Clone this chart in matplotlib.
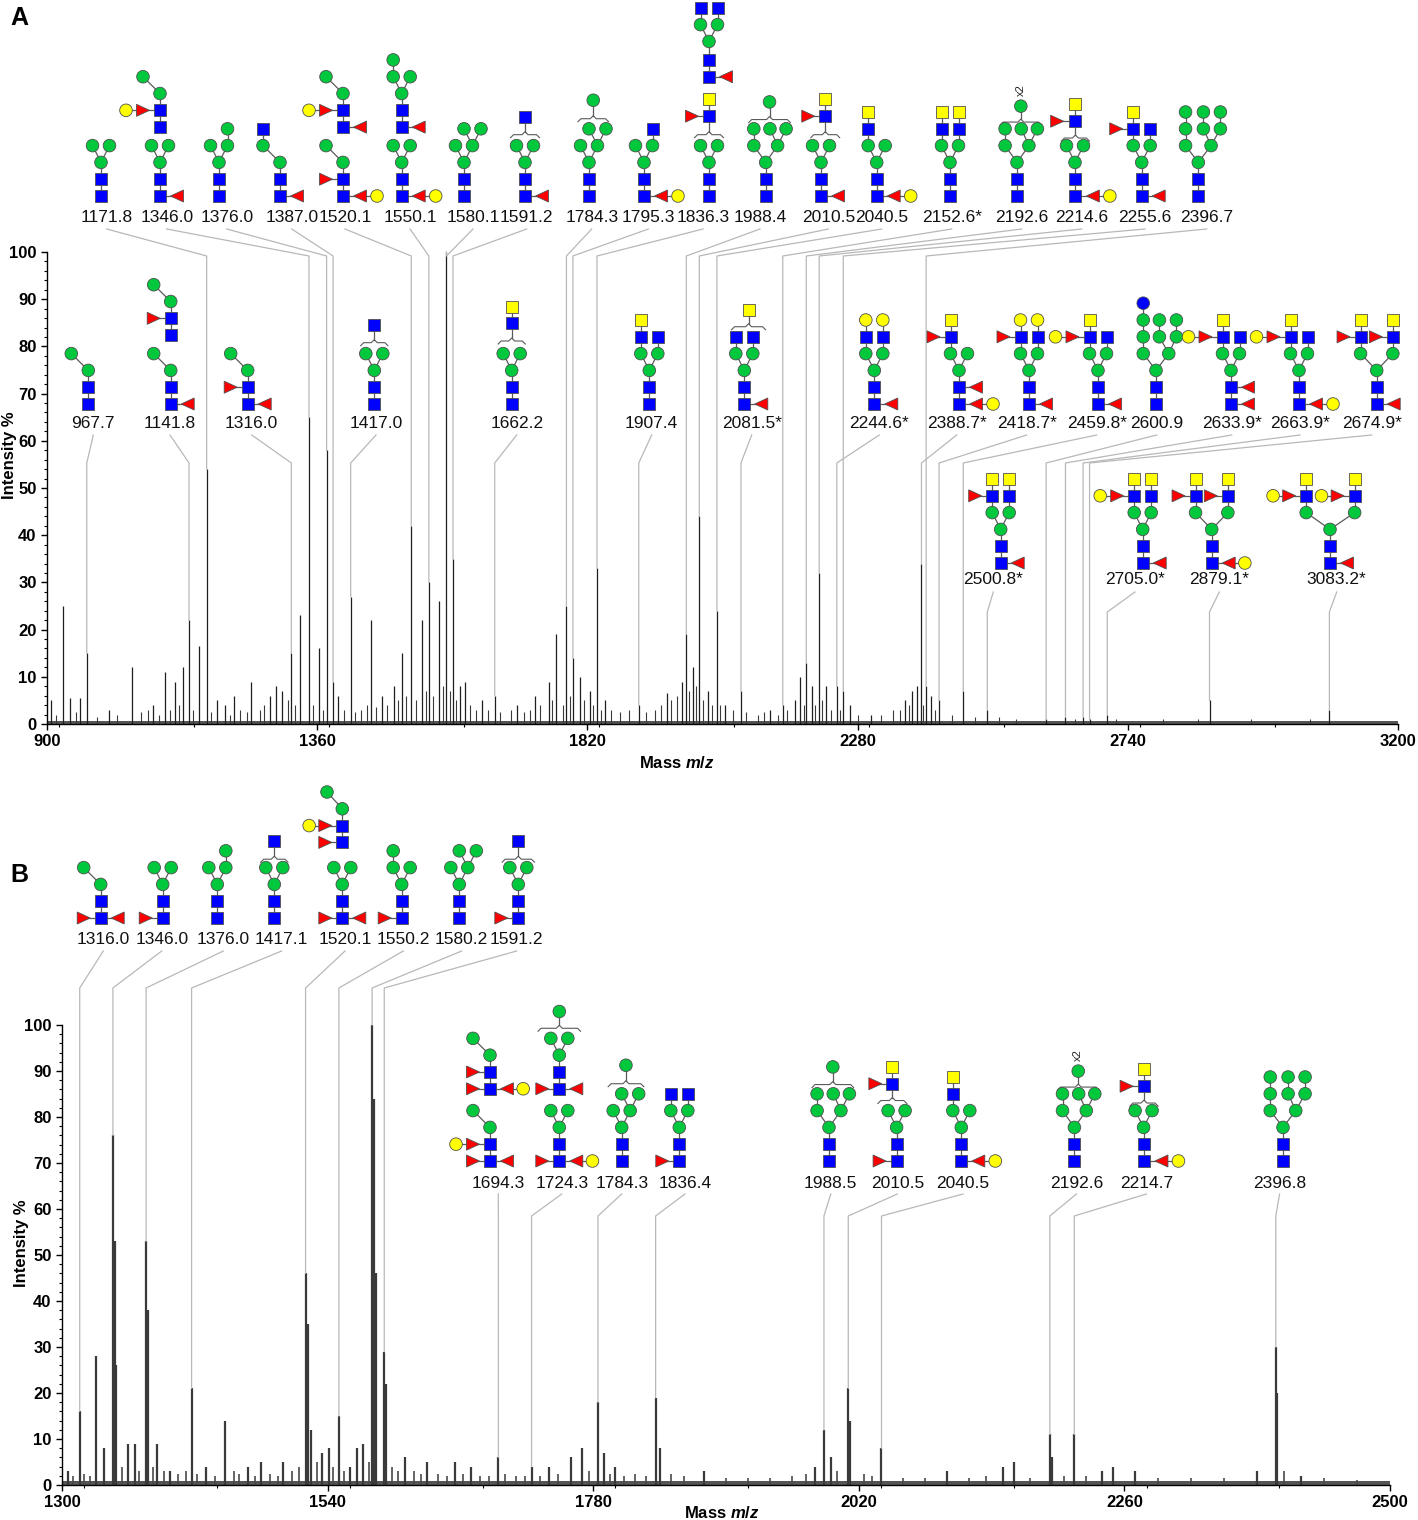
import matplotlib
matplotlib.use("Agg")
import matplotlib.pyplot as plt
from matplotlib.patches import Rectangle, Circle, Polygon
from matplotlib.ticker import MultipleLocator

W, H = 1418, 1520

plt.rcParams["font.family"] = ["Liberation Sans", "DejaVu Sans"]
plt.rcParams["mathtext.fontset"] = "custom"
plt.rcParams["mathtext.it"] = "Liberation Sans:italic:bold"
plt.rcParams["mathtext.rm"] = "Liberation Sans:bold"

# -----------------------------
# Spectrum A (m/z, intensity %)
# -----------------------------
a_mz = [907, 928, 940, 956, 967.7, 1005, 1044, 1080, 1101, 1118, 1131, 1141.8, 1159, 1171.8,
        1190, 1203, 1218, 1247, 1280, 1290, 1300, 1316.0, 1330, 1346.0, 1363, 1376.0, 1387.0,
        1395, 1417.0, 1452, 1470, 1490, 1505, 1520.1, 1538, 1550.1, 1567, 1580.1, 1591.2, 1603,
        1612, 1640, 1662.2, 1700, 1730, 1755, 1766, 1784.3, 1795.3, 1807, 1824, 1836.3, 1850,
        1907.4, 1955, 1981, 1988.4, 1999, 2010.5, 2025, 2040.5, 2054, 2081.5, 2131, 2152.6,
        2173, 2182, 2192.6, 2202, 2214.6, 2226, 2244.6, 2255.6, 2267, 2302, 2361, 2373, 2381,
        2388.7, 2396.7, 2405, 2418.7, 2459.8, 2500.8, 2600.9, 2633.9, 2663.9, 2674.9, 2705.0,
        2879.1, 3083.2]
a_int = [5, 25, 5.5, 5.5, 15, 3, 12, 4, 11, 9, 12, 22, 16.5, 54, 5, 4, 6, 9, 6, 8, 7, 15, 23,
         65, 16, 58, 9, 6, 27, 22, 6, 8, 15, 42, 22, 30, 26, 100, 35, 8, 9, 5, 6, 4, 6, 9, 19,
         25, 14, 10, 7, 33, 5, 4, 6.5, 9, 19, 12, 44, 7, 24, 4, 7, 3, 4, 5, 10, 13, 8, 32, 8, 8,
         7, 4, 2, 5, 7, 8, 34, 8, 6, 5, 7, 3, 1, 1.5, 1.5, 1, 2, 5, 3]

# low-level peaks (baseline "grass") in A
a_minor_mz = [915, 950, 985, 1020, 1060, 1072, 1090, 1110, 1125, 1148, 1180, 1212, 1228, 1240,
              1262, 1270, 1310, 1322, 1352, 1370, 1405, 1425, 1435, 1445, 1460, 1478, 1498,
              1512, 1528, 1545, 1557, 1575, 1586, 1597, 1620, 1630, 1650, 1672, 1690, 1712,
              1722, 1740, 1760, 1778, 1790, 1815, 1830, 1843, 1860, 1875, 1890, 1920, 1935,
              1945, 1962, 1972, 1993, 2005, 2017, 2032, 2046, 2068, 2090, 2110, 2120, 2145,
              2160, 2188, 2208, 2220, 2235, 2250, 2280, 2320, 2340, 2352, 2368, 2392, 2412,
              2440, 2480, 2520, 2550, 2650, 2720, 2800, 2860, 2950, 3050]
a_minor_int = [2, 2.5, 1.5, 2, 2.5, 3, 2, 3, 4, 3, 2.5, 2, 3, 2.5, 3, 4, 5, 4, 4, 3, 3, 2.5, 3,
               4, 3.5, 4, 5, 6, 5, 7, 6, 8, 7, 5, 4, 3, 3, 2.5, 3, 2.5, 3, 4, 5, 4, 6, 5, 4, 3,
               3, 2.5, 3, 2.5, 3, 4, 5, 6, 7, 8, 5, 4, 4, 3, 2.5, 2, 2.5, 2, 3, 4, 4, 5, 3, 3,
               2, 2, 3, 3, 4, 4, 3, 2, 1.5, 1.5, 1, 1, 1, 1, 1, 1, 1]

# -----------------------------
# Spectrum B (m/z, intensity %)
# -----------------------------
b_mz = [1305, 1316.0, 1331, 1338, 1346.0, 1347.5, 1349, 1360, 1366, 1376.0, 1378, 1386, 1398,
        1417.1, 1430, 1447, 1468, 1480, 1500, 1520.1, 1522, 1525, 1535, 1541, 1550.2, 1560,
        1567, 1572, 1580.2, 1582, 1583.5, 1591.2, 1593, 1610, 1630, 1655, 1670, 1694.3, 1724.3,
        1740, 1760, 1770, 1784.3, 1790, 1800, 1836.4, 1840, 1880, 1980, 1988.5, 1995, 2010.5,
        2012, 2040.5, 2100, 2150, 2160, 2192.6, 2195, 2214.7, 2240, 2250, 2270, 2380, 2396.8,
        2398, 2420]
b_int = [3, 16, 28, 8, 76, 53, 26, 9, 9, 53, 38, 9, 3, 21, 4, 14, 4, 5, 5, 46, 35, 12, 7, 8, 15,
         4, 8, 9, 100, 84, 46, 29, 22, 6, 5, 5, 4, 6, 4, 4, 6, 8, 18, 7, 4, 19, 8, 3, 4, 12, 6,
         21, 14, 8, 3, 4, 5, 11, 6, 11, 3, 4, 3, 3, 30, 20, 2]

b_minor_mz = [1310, 1320, 1325, 1354, 1370, 1382, 1392, 1405, 1412, 1422, 1438, 1455, 1460,
              1474, 1488, 1495, 1508, 1514, 1530, 1545, 1555, 1577, 1598, 1604, 1618, 1624,
              1640, 1648, 1662, 1678, 1686, 1700, 1710, 1718, 1732, 1748, 1776, 1795, 1808,
              1818, 1828, 1850, 1862, 1900, 1920, 1940, 1960, 1972, 2000, 2025, 2032, 2060,
              2080, 2120, 2135, 2175, 2205, 2225, 2290, 2320, 2350, 2404, 2440, 2470]
b_minor_int = [2, 2.5, 2, 4, 3, 4, 3, 2.5, 3, 2.5, 2, 3, 2.5, 2, 2.5, 2, 3, 4, 5, 4, 3, 5, 4, 3,
               3, 2.5, 2.5, 2, 2.5, 2, 2, 2.5, 2, 2, 2, 2.5, 3, 2.5, 2, 2.5, 2, 2.5, 2, 1.5, 1.5,
               1.5, 2, 2.5, 3, 2.5, 2, 1.5, 1.5, 1.5, 2, 1.5, 2, 2, 1.5, 1.5, 1.5, 3, 1.5, 1]

a_ticks = [900, 1360, 1820, 2280, 2740, 3200]
b_ticks = [1300, 1540, 1780, 2020, 2260, 2500]

# -----------------------------
# Glycan cartoons (chain notation, grid units)
# N GlcNAc, M Man, G Gal, Y GalNAc, F Fuc, L Glc, {x0,x1,y,top} bracket, T "x2"
# -----------------------------
M3 = "N0,0 N0,1 M0,2 M-1,3; M0,2 M1,3"
LIN = "N0,0 N0,1 M0,2 M-2,3"
TRI = "N0,0 N0,1 M0,2 M-1.4,3 M-1.4,4; M0,2 M1.4,3 M0.5,4; M1.4,3 M2.4,4"
HM9 = "N0,0 N0,1 M0,2 M-1.5,3 M-1.5,4 M-1.5,5; M0,2 M1.5,3 M0.6,4 M0.6,5; M1.5,3 M2.6,4 M2.6,5"

glycans = {
    "A1171.8": M3,
    "A1346.0": M3 + "; N0,0 F2,0; N0,4.1 N0,5.1 M0,6.1 M-2,7.1; N0,5.1 F-2,5.1 G-4,5.1",
    "A1376.0": M3 + "; M1,3 M1,4",
    "A1387.0": "N0,0 N0,1 M0,2 M-2,3 N-2,4; N0,0 F2,0",
    "A1520.1": LIN + "; N0,1 F-2,1; N0,0 F2,0 G4,0; N0,4.1 N0,5.1 M0,6.1 M-2,7.1; "
               "N0,5.1 F-2,5.1 G-4,5.1; N0,4.1 F2,4.1",
    "A1550.1": M3 + "; N0,0 F2,0 G4,0; N0,4.1 N0,5.1 M0,6.1 M-1,7.1 M-1,8.1; M0,6.1 M1,7.1; N0,4.1 F2,4.1",
    "A1580.1": M3 + "; M1,3 M0,4; M1,3 M2,4",
    "A1591.2": M3 + "; N0,0 F2,0; {-1.7,1.7,3.65,4.7}; N0,4.7",
    "A1784.3": M3 + "; M1,3 M0,4; M1,3 M2,4; {-1.3,2.3,4.6,5.7}; M0.5,5.7",
    "A1795.3": M3 + "; M1,3 N1,4; N0,0 F2,0 G4,0",
    "A1836.3": M3 + "; {-1.7,1.7,3.65,4.75}; N0,4.75 Y0,5.75; N0,4.75 F-2,4.75; "
               "N0,7.1 N0,8.1 M0,9.2 M-1,10.2 N-1,11.2; M0,9.2 M1,10.2 N1,11.2; N0,7.1 F2,7.1",
    "A1988.4": TRI + "; {-2,2.9,4.55,5.6}; M0.45,5.6",
    "A2010.5": M3 + "; N0,0 F2,0; {-1.2,2.2,3.65,4.75}; N0.5,4.75 Y0.5,5.75; N0.5,4.75 F-1.5,4.75",
    "A2040.5": M3 + "; M-1,3 N-1,4 Y-1,5; N0,0 F2,0 G4,0",
    "A2152.6*": M3 + "; M-1,3 N-1,4 Y-1,5; M1,3 N1,4 Y1,5",
    "A2192.6": TRI + "; {-2,2.9,4.4,5.35}; M0.45,5.35; T0.45,6.3",
    "A2214.6": M3 + "; N0,0 F2.1,0 G4.1,0; {-1.6,1.7,3.45,4.45}; N0,4.45 Y0,5.45; N0,4.45 F-2.1,4.45",
    "A2255.6": M3 + "; M-1,3 N-1,4 Y-1,5; M1,3 N1,4; N-1,4 F-3,4; N0,0 F2,0",
    "A2396.7": HM9,
    "A967.7": LIN,
    "A1141.8": LIN + "; N0,0 F2,0; N0,4.1 N0,5.1 M0,6.1 M-2,7.1; N0,5.1 F-2,5.1",
    "A1316.0": LIN + "; N0,0 F2,0; N0,1 F-2,1",
    "A1417.0": M3 + "; {-1.6,1.6,3.65,4.7}; N0,4.7",
    "A1662.2": M3 + "; {-1.6,1.6,3.75,4.8}; N0,4.8 Y0,5.8",
    "A1907.4": M3 + "; M-1,3 N-1,4 Y-1,5; M1,3 N1,4",
    "A2081.5*": M3 + "; M-1,3 N-1,4; M1,3 N1,4; N0,0 F2,0; {-1.5,2.5,4.6,5.6}; Y0.5,5.6",
    "A2244.6*": M3 + "; M-1,3 N-1,4 G-1,5; M1,3 N1,4 G1,5; N0,0 F2,0",
    "A2388.7*": M3 + "; M-1,3 N-1,4 Y-1,5; N-1,4 F-3,4; N0,0 F2,0 G4,0; N0,1 F2,1",
    "A2418.7*": M3 + "; M-1,3 N-1,4 G-1,5; M1,3 N1,4 G1,5; N-1,4 F-3,4; N0,0 F2,0",
    "A2459.8*": M3 + "; M-1,3 N-1,4 Y-1,5; M1,3 N1,4; N-1,4 F-3,4 G-5,4; N0,0 F2,0",
    "A2600.9": "N0,0 N0,1 M0,2 M-1.5,3 M-1.5,4 M-1.5,5 L-1.5,6; M0,2 M1.5,3 M0.4,4 M0.4,5; M1.5,3 M2.4,4 M2.4,5",
    "A2633.9*": M3 + "; M-1,3 N-1,4 Y-1,5; M1,3 N1,4; N-1,4 F-3,4 G-5,4; N0,0 F2,0; N0,1 F2,1",
    "A2663.9*": M3 + "; M-1,3 N-1,4 Y-1,5; M1,3 N1,4; N-1,4 F-3,4 G-5,4; N0,0 F2,0 G4,0",
    "A2674.9*": "N0,0 N0,1 M0,2 M-1.9,3 N-1.9,4 Y-1.9,5; M0,2 M1.9,3 N1.9,4 Y1.9,5; "
                "N-1.9,4 F-3.9,4; N1.9,4 F-0.1,4; N0,0 F2,0",
    "A2500.8*": M3 + "; M-1,3 N-1,4 Y-1,5; M1,3 N1,4 Y1,5; N-1,4 F-3,4; N0,0 F2,0",
    "A2705.0*": M3 + "; M-1,3 N-1,4 Y-1,5; M1,3 N1,4 Y1,5; N-1,4 F-3,4 G-5,4; N0,0 F2,0",
    "A2879.1*": "N0,0 N0,1 M0,2 M-1.9,3 N-1.9,4 Y-1.9,5; M0,2 M1.9,3 N1.9,4 Y1.9,5; "
                "N-1.9,4 F-3.9,4; N1.9,4 F-0.1,4; N0,0 F2,0 G3.9,0",
    "A3083.2*": "N0,0 N0,1 M0,2 M-2.8,3 N-2.8,4 Y-2.8,5; M0,2 M2.9,3 N2.9,4 Y2.9,5; "
                "N-2.8,4 F-4.8,4 G-6.7,4; N2.9,4 F0.9,4 G-1,4; N0,0 F2,0",
    "B1316.0": LIN + "; N0,0 F2,0; N0,0 F-2,0",
    "B1346.0": M3 + "; N0,0 F-2,0",
    "B1376.0": M3 + "; M1,3 M1,4",
    "B1417.1": M3 + "; {-1.6,1.6,3.5,4.6}; N0,4.6",
    "B1520.1": M3 + "; N0,0 F-2,0; N0,0 F2,0; N0,4.5 N0,5.5 M0,6.5 M-1.8,7.5; N0,4.5 F-2,4.5; "
               "N0,5.5 F-2,5.5 G-3.9,5.5",
    "B1550.2": M3 + "; M-1,3 M-1,4; N0,0 F-2,0",
    "B1580.2": M3 + "; M1,3 M0,4; M1,3 M2,4",
    "B1591.2": M3 + "; N0,0 F-2,0; {-1.9,1.9,3.5,4.6}; N0,4.6",
    "B1694.3": LIN + "; N0,0 F-2,0; N0,0 F2,0; N0,1 F-2,1 G-4,1; N0,4.3 N0,5.3 M0,6.3 M-2,7.3; "
               "N0,4.3 F-2,4.3; N0,4.3 F2,4.3 G3.9,4.3; N0,5.3 F-2,5.3",
    "B1724.3": M3 + "; N0,0 F-2,0; N0,0 F2,0 G3.9,0; N0,4.3 N0,5.3 M0,6.3 M-1,7.3; M0,6.3 M1,7.3; "
               "N0,4.3 F-2,4.3; N0,4.3 F2,4.3; {-2.5,2.5,7.9,8.9}; M0,8.9",
    "B1784.3": M3 + "; M1,3 M0,4; M1,3 M2,4; {-1.6,2.6,4.6,5.7}; M0.5,5.7",
    "B1836.4": M3 + "; M-1,3 N-1,4; M1,3 N1,4; N0,0 F-2,0",
    "B1988.5": TRI + "; {-2,2.9,4.55,5.6}; M0.45,5.6",
    "B2010.5": M3 + "; N0,0 F-2,0; {-2.2,1.2,3.6,4.6}; N-0.5,4.6 Y-0.5,5.6; N-0.5,4.6 F-2.5,4.6",
    "B2040.5": M3 + "; M-1,3 N-1,4 Y-1,5; N0,0 F2,0 G4,0",
    "B2192.6": TRI + "; {-2,2.9,4.4,5.35}; M0.45,5.35; T0.45,6.3",
    "B2214.7": M3 + "; N0,0 F2.1,0 G4.1,0; {-1.6,1.7,3.45,4.45}; N0,4.45 Y0,5.45; N0,4.45 F-2,4.45",
    "B2396.8": HM9,
}

# -----------------------------
# Annotation layout: (panel, row, label, label x px, glycan core x px)
# -----------------------------
rows = {
    "A_top": dict(label_y=218, base_y=196, start_y=229, knee_y=256),
    "A_mid": dict(label_y=424, base_y=404, start_y=435, knee_y=463),
    "A_low": dict(label_y=580, base_y=563, start_y=592, knee_y=612),
    "B_top": dict(label_y=940, base_y=918, start_y=951, knee_y=988),
    "B_low": dict(label_y=1183, base_y=1161, start_y=1194, knee_y=1216),
}

annotations = [
    ("A", "A_top", "1171.8", 106.7, 101), ("A", "A_top", "1346.0", 166.7, 160),
    ("A", "A_top", "1376.0", 226.7, 219), ("A", "A_top", "1387.0", 291.7, 280),
    ("A", "A_top", "1520.1", 345, 343), ("A", "A_top", "1550.1", 410, 401.7),
    ("A", "A_top", "1580.1", 473, 464), ("A", "A_top", "1591.2", 526.7, 525),
    ("A", "A_top", "1784.3", 591.7, 589), ("A", "A_top", "1795.3", 648.3, 644),
    ("A", "A_top", "1836.3", 703, 709), ("A", "A_top", "1988.4", 760, 765.7),
    ("A", "A_top", "2010.5", 828.3, 821), ("A", "A_top", "2040.5", 881.7, 876.7),
    ("A", "A_top", "2152.6*", 951.7, 950), ("A", "A_top", "2192.6", 1021.7, 1017),
    ("A", "A_top", "2214.6", 1081.7, 1075), ("A", "A_top", "2255.6", 1145, 1141.7),
    ("A", "A_top", "2396.7", 1206.7, 1198.3),
    ("A", "A_mid", "967.7", 93.3, 88.3), ("A", "A_mid", "1141.8", 170, 170.7),
    ("A", "A_mid", "1316.0", 251.7, 247.7), ("A", "A_mid", "1417.0", 376, 374.3),
    ("A", "A_mid", "1662.2", 516.7, 511.7), ("A", "A_mid", "1907.4", 651.7, 649.3),
    ("A", "A_mid", "2081.5*", 751.7, 744.3), ("A", "A_mid", "2244.6*", 879.3, 874.3),
    ("A", "A_mid", "2388.7*", 956.7, 959), ("A", "A_mid", "2418.7*", 1026.7, 1029),
    ("A", "A_mid", "2459.8*", 1096.7, 1098), ("A", "A_mid", "2600.9", 1156.7, 1156),
    ("A", "A_mid", "2633.9*", 1231.7, 1231), ("A", "A_mid", "2663.9*", 1300, 1299),
    ("A", "A_mid", "2674.9*", 1371.7, 1376.7),
    ("A", "A_low", "2500.8*", 993.3, 1000.7), ("A", "A_low", "2705.0*", 1135, 1142.7),
    ("A", "A_low", "2879.1*", 1219.3, 1211.7), ("A", "A_low", "3083.2*", 1336.7, 1330),
    ("B", "B_top", "1316.0", 103.3, 100.7), ("B", "B_top", "1346.0", 161.7, 162.7),
    ("B", "B_top", "1376.0", 223.3, 217.3), ("B", "B_top", "1417.1", 281.7, 274.3),
    ("B", "B_top", "1520.1", 345, 342.3), ("B", "B_top", "1550.2", 403.3, 401.7),
    ("B", "B_top", "1580.2", 461.7, 459.3), ("B", "B_top", "1591.2", 516.7, 518.3),
    ("B", "B_low", "1694.3", 498.3, 490), ("B", "B_low", "1724.3", 561.7, 559.3),
    ("B", "B_low", "1784.3", 621.7, 621.7), ("B", "B_low", "1836.4", 685, 679.3),
    ("B", "B_low", "1988.5", 830.8, 829), ("B", "B_low", "2010.5", 897.3, 896.6),
    ("B", "B_low", "2040.5", 963, 961.3), ("B", "B_low", "2192.6", 1076.5, 1074.4),
    ("B", "B_low", "2214.7", 1146.4, 1143.6), ("B", "B_low", "2396.8", 1279.6, 1283),
]

UX, UY = 8.5, 16.8
COLORS = {"N": "#0000ff", "M": "#00c83c", "G": "#ffff00", "Y": "#ffff00",
          "F": "#ff0000", "L": "#0000ff"}


def nums(tok):
    return tuple(float(v) for v in tok.strip("{}T").split(","))


def draw_glycan(ov, cx, by, spec):
    px = lambda v: cx + v * UX
    py = lambda v: by - v * UY
    nodes, edges, extras = {}, [], []
    for chain in spec.split(";"):
        prev = None
        for tok in chain.split():
            if tok[0] == "{":
                extras.append(("brace",) + nums(tok))
                continue
            if tok[0] == "T":
                extras.append(("text",) + nums(tok))
                continue
            key = nums(tok[1:])
            if key not in nodes:
                nodes[key] = (tok[0], prev)
            if prev is not None:
                edges.append((prev, key))
            prev = key

    for a, b in edges:
        ov.plot([px(a[0]), px(b[0])], [py(a[1]), py(b[1])], color="#5a5a5a", lw=0.9, zorder=2)

    for ex in extras:
        if ex[0] == "brace":
            _, x0, x1, yb, top = ex
            X0, X1, Y = px(x0), px(x1), py(yb)
            xc = (X0 + X1) / 2
            ov.plot([X0, X0 + 3, xc - 3, xc, xc + 3, X1 - 3, X1],
                    [Y + 3, Y, Y, Y - 3, Y, Y, Y + 3], color="#5a5a5a", lw=0.8, zorder=2)
            ov.plot([xc, xc], [Y - 3, py(top)], color="#5a5a5a", lw=0.9, zorder=2)
        else:
            _, x, y = ex
            ov.text(px(x), py(y), "x2", rotation=90, fontsize=8, ha="center", va="center",
                    color="#222222", zorder=4)

    for (x, y), (kind, parent) in nodes.items():
        X, Y = px(x), py(y)
        fc = COLORS[kind]
        if kind in "NY":
            ov.add_patch(Rectangle((X - 6, Y - 6), 12, 12, fc=fc, ec="#505050", lw=0.6, zorder=3))
        elif kind == "F":
            left = parent is None or parent[0] < x
            if left:
                pts = [(X - 6.5, Y), (X + 6.5, Y - 6), (X + 6.5, Y + 6)]
            else:
                pts = [(X + 6.5, Y), (X - 6.5, Y - 6), (X - 6.5, Y + 6)]
            ov.add_patch(Polygon(pts, closed=True, fc=fc, ec="#505050", lw=0.6, zorder=3))
        else:
            ov.add_patch(Circle((X, Y), 6.3, fc=fc, ec="#505050", lw=0.6, zorder=3))


def style_axis(ax, ticks, minor):
    ax.set_ylim(0, 100)
    ax.set_xlim(ticks[0], ticks[-1])
    ax.set_xticks(ticks)
    ax.xaxis.set_minor_locator(MultipleLocator(minor))
    ax.set_yticks(range(0, 101, 10))
    ax.yaxis.set_minor_locator(MultipleLocator(2))
    for s in ["top", "right"]:
        ax.spines[s].set_visible(False)
    for s in ["left", "bottom"]:
        ax.spines[s].set_linewidth(1.0)
    ax.tick_params(which="major", length=4, width=1, labelsize=12)
    ax.tick_params(which="minor", length=2, width=0.8)
    for lbl in ax.get_xticklabels() + ax.get_yticklabels():
        lbl.set_fontweight("bold")
    ax.set_ylabel("Intensity %", fontsize=12, fontweight="bold")
    ax.set_xlabel("Mass $m/z$", fontsize=12, fontweight="bold")
    ax.patch.set_alpha(0)


fig = plt.figure(figsize=(W / 100, H / 100), dpi=100)

axA = fig.add_axes([47 / W, 1 - 724 / H, 1351 / W, 472 / H])
axA.fill_between([a_ticks[0], a_ticks[-1]], 0, 0.6, color="#555555", lw=0)
axA.vlines(a_minor_mz, 0, a_minor_int, color="#3a3a3a", lw=0.8)
axA.vlines(a_mz, 0, a_int, color="#1e1e1e", lw=0.9)
style_axis(axA, a_ticks, 230)
axA.yaxis.set_label_coords(-0.022, 0.57)
axA.xaxis.set_label_coords(0.466, -0.066)

axB = fig.add_axes([62 / W, 1 - 1485 / H, 1328 / W, 460 / H])
axB.fill_between([b_ticks[0], b_ticks[-1]], 0, 0.8, color="#555555", lw=0)
axB.vlines(b_minor_mz, 0, b_minor_int, color="#4a4a4a", lw=1.2)
axB.vlines(b_mz, 0, b_int, color="#3a3a3a", lw=1.6)
style_axis(axB, b_ticks, 120)
axB.yaxis.set_label_coords(-0.025, 0.526)
axB.xaxis.set_label_coords(0.497, -0.044)

fig.text(10 / W, 1 - 18 / H, "A", fontsize=18, fontweight="bold", ha="left", va="center")
fig.text(10 / W, 1 - 875 / H, "B", fontsize=18, fontweight="bold", ha="left", va="center")

# overlay in pixel coordinates for labels, leader lines and glycans
ov = fig.add_axes([0, 0, 1, 1], zorder=5)
ov.set_xlim(0, W)
ov.set_ylim(H, 0)
ov.axis("off")
ov.patch.set_alpha(0)

spectra = {"A": (axA, a_mz, a_int), "B": (axB, b_mz, b_int)}

for panel, row, label, lx, gx in annotations:
    ax, mzs, ints = spectra[panel]
    mz = float(label.rstrip("*"))
    h = ints[mzs.index(mz)]
    dx, dy = ax.transData.transform((mz, h))
    r = rows[row]
    ov.plot([lx, dx, dx], [r["start_y"], r["knee_y"], H - dy], color="#b8b8b8", lw=0.9, zorder=1)
    ov.text(lx, r["label_y"], label, fontsize=12.5, ha="center", va="center", color="#111111",
            zorder=4)
    draw_glycan(ov, gx, r["base_y"], glycans[panel + label])

fig.savefig("out.png", dpi=100)
